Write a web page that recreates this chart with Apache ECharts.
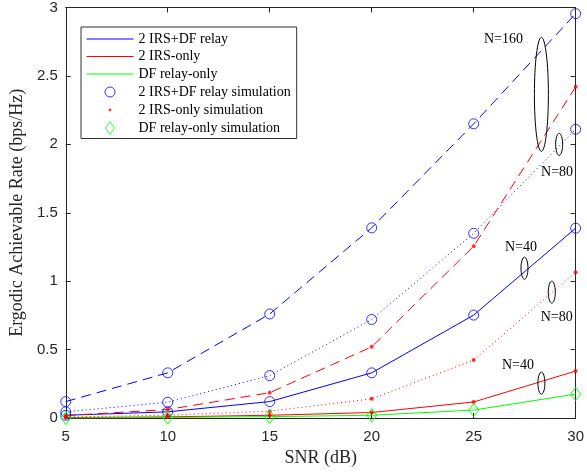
<!DOCTYPE html>
<html>
<head>
<meta charset="utf-8">
<script src="https://cdn.jsdelivr.net/npm/echarts@6/dist/echarts.min.js"></script>
<style>
html,body{margin:0;padding:0;background:#fff;}
#main{width:587px;height:473px;}
</style>
</head>
<body>
<div id="main"></div>
<script>
// ---- data ----
var snr = [5, 10, 15, 20, 25, 30];
var irsDf160 = [0.12, 0.33, 0.76, 1.39, 2.15, 2.955];
var irsDf80 = [0.045, 0.115, 0.31, 0.72, 1.35, 2.11];
var irsDf40 = [0.02, 0.045, 0.12, 0.33, 0.752, 1.387];
var irsOnly160 = [0.018, 0.062, 0.185, 0.52, 1.255, 2.42];
var irsOnly80 = [0.008, 0.02, 0.05, 0.14, 0.423, 1.066];
var irsOnly40 = [0.003, 0.008, 0.02, 0.04, 0.117, 0.343];
var dfOnly = [0.0, 0.004, 0.01, 0.02, 0.058, 0.175];
var yTicks = [0, 0.5, 1, 1.5, 2, 2.5, 3];
var legendNames = ['2 IRS+DF relay', '2 IRS-only', 'DF relay-only',
  '2 IRS+DF relay simulation', '2 IRS-only simulation', 'DF relay-only simulation'];
var annotations = [
  {label: 'N=160', tx: 26.46, ty: 2.766, ex: 28.32, ey: 2.365, rx: 7, ry: 57},
  {label: 'N=80', tx: 29.09, ty: 1.796, ex: 29.19, ey: 2.0, rx: 3.5, ry: 11},
  {label: 'N=40', tx: 27.32, ty: 1.248, ex: 27.49, ey: 1.095, rx: 3.5, ry: 11},
  {label: 'N=80', tx: 29.07, ty: 0.737, ex: 28.83, ey: 0.92, rx: 3.5, ry: 11},
  {label: 'N=40', tx: 27.17, ty: 0.387, ex: 28.32, ey: 0.255, rx: 3.5, ry: 11}
];

var BLUE = '#0000ff', RED = '#ff0000', GREEN = '#00ff00';
var SERIF = "'Liberation Serif','Times New Roman',serif";
var SANS = "'Liberation Sans',Arial,Helvetica,sans-serif";
var AX = '#262626';

function pairs(vals) { return snr.map(function (x, i) { return [x, vals[i]]; }); }

function lineSeries(name, vals, color, type) {
  return {
    name: name, type: 'line', data: pairs(vals), symbol: 'none', silent: true,
    lineStyle: {color: color, width: 1, type: type}, itemStyle: {color: color},
    z: 2, animation: false
  };
}
function markSeries(name, vals, symbol, size, style) {
  return {
    name: name, type: 'scatter', data: pairs(vals), symbol: symbol, symbolSize: size,
    itemStyle: style, z: 3, animation: false, silent: true
  };
}

var circleStyle = {color: 'rgba(0,0,0,0)', borderColor: BLUE, borderWidth: 1};
var dotStyle = {color: RED, borderWidth: 0};
var diamondStyle = {color: 'rgba(0,0,0,0)', borderColor: GREEN, borderWidth: 1};

var series = [
  lineSeries(legendNames[0], irsDf40, BLUE, 'solid'),
  lineSeries('IRS+DF N=80', irsDf80, BLUE, [1, 3]),
  lineSeries('IRS+DF N=160', irsDf160, BLUE, [10, 6]),
  lineSeries(legendNames[1], irsOnly40, RED, 'solid'),
  lineSeries('IRS N=80', irsOnly80, RED, [1, 3]),
  lineSeries('IRS N=160', irsOnly160, RED, [10, 6]),
  lineSeries(legendNames[2], dfOnly, GREEN, 'solid'),
  markSeries(legendNames[3], irsDf40, 'circle', 10, circleStyle),
  markSeries(legendNames[3], irsDf80, 'circle', 10, circleStyle),
  markSeries(legendNames[3], irsDf160, 'circle', 10, circleStyle),
  markSeries(legendNames[4], irsOnly40, 'circle', 4, dotStyle),
  markSeries(legendNames[4], irsOnly80, 'circle', 4, dotStyle),
  markSeries(legendNames[4], irsOnly160, 'circle', 4, dotStyle),
  markSeries(legendNames[5], dfOnly, 'diamond', [10, 13], diamondStyle)
];

var pad = 'M0,0L0,0M14,14L14,14';
var legendData = [
  {name: legendNames[0], itemStyle: {opacity: 0}, lineStyle: {width: 1, color: BLUE}},
  {name: legendNames[1], itemStyle: {opacity: 0}, lineStyle: {width: 1, color: RED}},
  {name: legendNames[2], itemStyle: {opacity: 0}, lineStyle: {width: 1, color: GREEN}},
  {name: legendNames[3], icon: 'path://' + pad + 'M2,7A5,5 0 1,0 12,7A5,5 0 1,0 2,7Z',
    itemStyle: {color: 'rgba(0,0,0,0)', borderColor: BLUE, borderWidth: 1}},
  {name: legendNames[4], icon: 'path://' + pad + 'M5.6,7A1.4,1.4 0 1,0 8.4,7A1.4,1.4 0 1,0 5.6,7Z',
    itemStyle: {color: RED, borderWidth: 0}},
  {name: legendNames[5], icon: 'path://' + pad + 'M7,0.5L11.5,7L7,13.5L2.5,7Z',
    itemStyle: {color: 'rgba(0,0,0,0)', borderColor: GREEN, borderWidth: 1}}
];

var chart = echarts.init(document.getElementById('main'), null, {renderer: 'canvas'});

var baseX = {
  type: 'value', min: 5, max: 30, interval: 5,
  axisLine: {show: true, onZero: false, lineStyle: {color: AX, width: 1}},
  axisTick: {show: true, inside: true, length: 5, lineStyle: {color: AX}},
  splitLine: {show: false}
};
var baseY = {
  type: 'value', min: 0, max: 3, interval: 0.5,
  axisLine: {show: true, onZero: false, lineStyle: {color: AX, width: 1}},
  axisTick: {show: true, inside: true, length: 5, lineStyle: {color: AX}},
  splitLine: {show: false}
};

var option = {
  animation: false,
  backgroundColor: '#fff',
  grid: {left: 57, right: 8, top: 7, bottom: 55, containLabel: false},
  xAxis: [
    Object.assign({}, baseX, {
      position: 'bottom',
      name: 'SNR (dB)', nameLocation: 'middle', nameGap: 31,
      nameTextStyle: {fontFamily: SERIF, fontSize: 18, color: AX},
      axisLabel: {show: true, margin: 11, fontFamily: SANS, fontSize: 15, color: AX}
    }),
    Object.assign({}, baseX, {position: 'top', axisLabel: {show: false}})
  ],
  yAxis: [
    Object.assign({}, baseY, {
      position: 'left',
      name: 'Ergodic Achievable Rate (bps/Hz)', nameLocation: 'middle', nameGap: 31,
      nameTextStyle: {fontFamily: SERIF, fontSize: 18, color: AX},
      axisLabel: {show: true, margin: 8, fontFamily: SANS, fontSize: 15, color: AX,
        formatter: function (v) { return yTicks.indexOf(v) >= 0 ? String(v) : ''; }}
    }),
    Object.assign({}, baseY, {position: 'right', axisLabel: {show: false}})
  ],
  legend: {
    show: true, orient: 'vertical', left: 81, top: 27,
    data: legendData,
    itemWidth: 47, itemHeight: 14, itemGap: 3.5,
    padding: [5, 6, 3, 5],
    backgroundColor: '#fff', borderColor: '#333', borderWidth: 1,
    selectedMode: false,
    textStyle: {fontFamily: SERIF, fontSize: 14, color: '#000'}
  },
  series: series
};
chart.setOption(option);

// annotations anchored in data coordinates
var graphics = [];
annotations.forEach(function (a) {
  var e = chart.convertToPixel({xAxisIndex: 0, yAxisIndex: 0}, [a.ex, a.ey]);
  var t = chart.convertToPixel({xAxisIndex: 0, yAxisIndex: 0}, [a.tx, a.ty]);
  graphics.push({
    type: 'ellipse', shape: {cx: e[0], cy: e[1], rx: a.rx, ry: a.ry},
    style: {fill: null, stroke: '#000', lineWidth: 1}, z: 10, silent: true
  });
  graphics.push({
    type: 'text', x: t[0], y: t[1], z: 10, silent: true,
    style: {text: a.label, fill: '#000', font: '14px ' + SERIF, align: 'center', verticalAlign: 'middle'}
  });
});
chart.setOption({graphic: graphics});
</script>
</body>
</html>
